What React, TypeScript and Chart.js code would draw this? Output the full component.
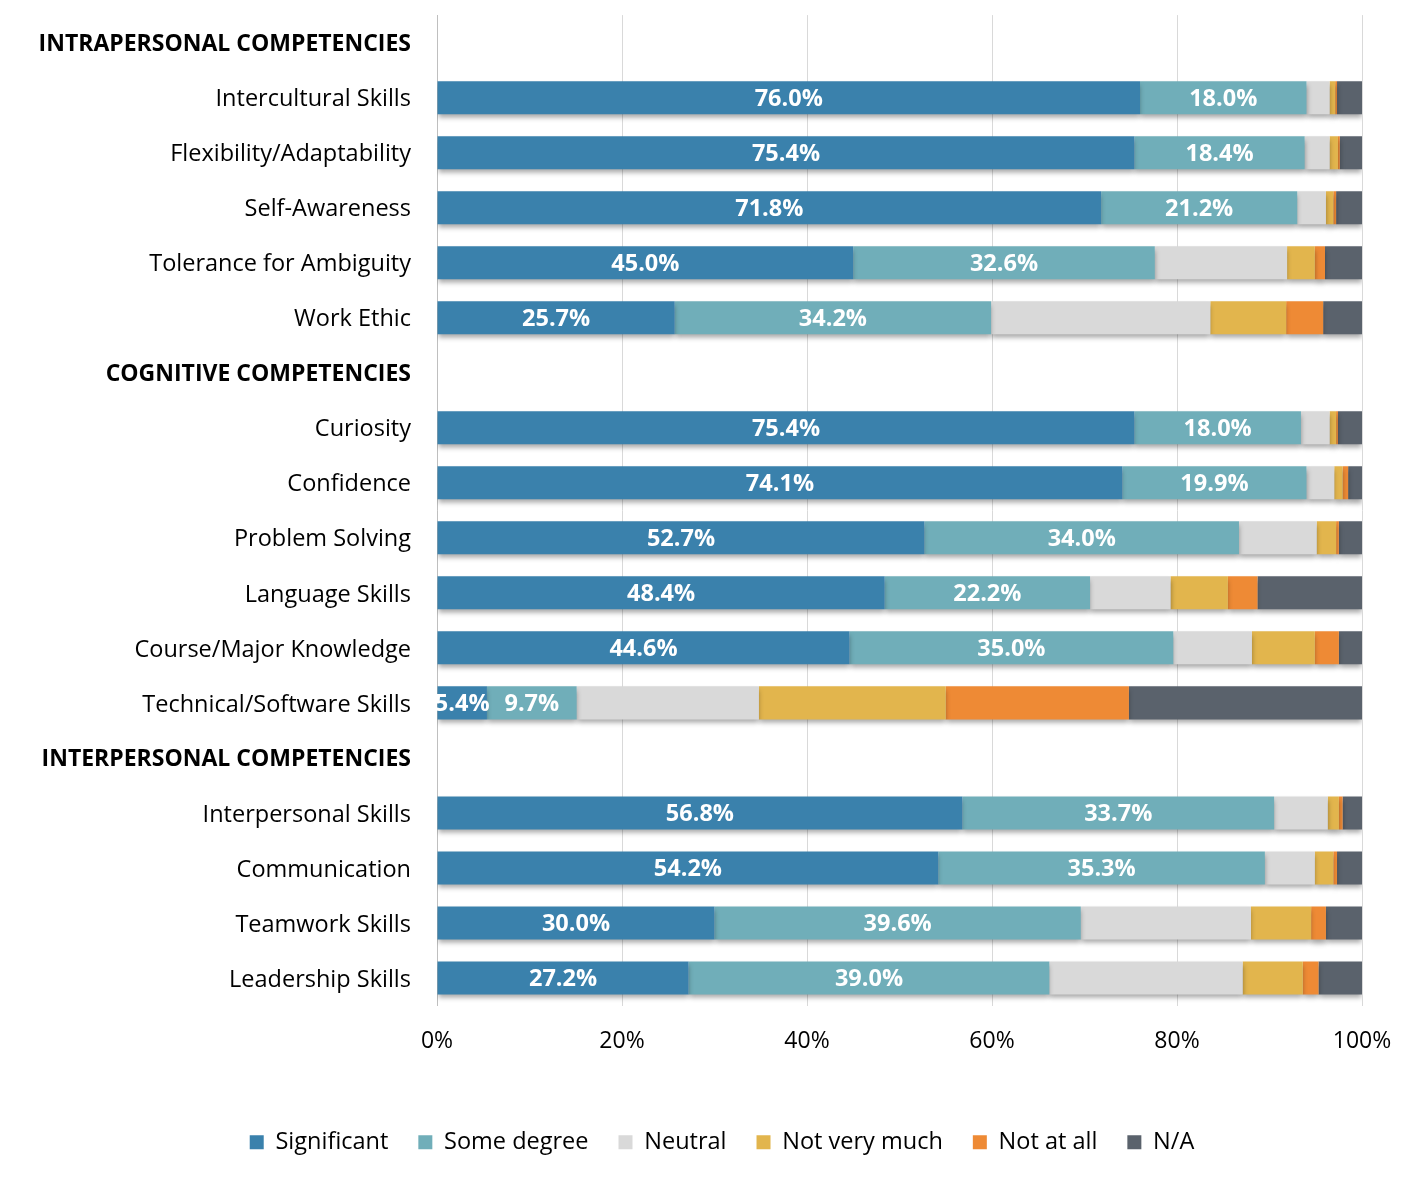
import React, { useEffect, useRef } from "react";
import { Chart, registerables } from "chart.js";

Chart.register(...registerables);

const categories = [
  "INTRAPERSONAL COMPETENCIES",
  "Intercultural Skills",
  "Flexibility/Adaptability",
  "Self-Awareness",
  "Tolerance for Ambiguity",
  "Work Ethic",
  "COGNITIVE COMPETENCIES",
  "Curiosity",
  "Confidence",
  "Problem Solving",
  "Language Skills",
  "Course/Major Knowledge",
  "Technical/Software Skills",
  "INTERPERSONAL COMPETENCIES",
  "Interpersonal Skills",
  "Communication",
  "Teamwork Skills",
  "Leadership Skills",
];

const headerRows = [0, 6, 13];

const significant = [null, 76.0, 75.4, 71.8, 45.0, 25.7, null, 75.4, 74.1, 52.7, 48.4, 44.6, 5.4, null, 56.8, 54.2, 30.0, 27.2];
const someDegree = [null, 18.0, 18.4, 21.2, 32.6, 34.2, null, 18.0, 19.9, 34.0, 22.2, 35.0, 9.7, null, 33.7, 35.3, 39.6, 39.0];
const neutral = [null, 2.5, 2.7, 3.1, 14.3, 23.7, null, 3.1, 3.0, 8.4, 8.7, 8.5, 19.7, null, 5.8, 5.4, 18.4, 20.9];
const notVeryMuch = [null, 0.6, 0.9, 0.8, 3.0, 8.2, null, 0.7, 0.9, 2.1, 6.2, 6.8, 20.2, null, 1.2, 2.0, 6.5, 6.5];
const notAtAll = [null, 0.2, 0.2, 0.3, 1.1, 4.0, null, 0.2, 0.6, 0.3, 3.2, 2.6, 19.8, null, 0.4, 0.4, 1.6, 1.7];
const notApplicable = [null, 2.7, 2.4, 2.8, 4.0, 4.2, null, 2.6, 1.5, 2.5, 11.3, 2.5, 25.2, null, 2.1, 2.7, 3.9, 4.7];

const seriesNames = ["Significant", "Some degree", "Neutral", "Not very much", "Not at all", "N/A"];
const seriesColors = ["#3A81AC", "#70AEB9", "#D9D9D9", "#E2B54D", "#EE8A35", "#5A626C"];
const xTicks = ["0%", "20%", "40%", "60%", "80%", "100%"];
const labelledSeries = [0, 1];

const FONT = "'Open Sans', Lato, sans-serif";
const SHIFT = 25;

const shadowAndLabels = {
  id: "shadowAndLabels",
  afterLayout(chart: any) {
    if (chart.legend) {
      chart.legend.right += 82;
    }
  },
  beforeDatasetsDraw(chart: any) {
    const ctx = chart.ctx;
    ctx.save();
    ctx.shadowColor = "rgba(0,0,0,0.35)";
    ctx.shadowBlur = 5;
    ctx.shadowOffsetX = 0;
    ctx.shadowOffsetY = 4;
  },
  afterDatasetsDraw(chart: any) {
    const ctx = chart.ctx;
    ctx.restore();
    ctx.save();
    ctx.fillStyle = "#FFFFFF";
    ctx.font = `bold 23.5px ${FONT}`;
    ctx.textAlign = "center";
    ctx.textBaseline = "middle";
    labelledSeries.forEach((di) => {
      const meta = chart.getDatasetMeta(di);
      const data = chart.data.datasets[di].data;
      meta.data.forEach((el: any, i: number) => {
        const v = data[i];
        if (v === null || v === undefined) return;
        const cx = (el.x + el.base) / 2;
        ctx.fillText(v.toFixed(1) + "%", cx, el.y + 1.5);
      });
    });
    ctx.restore();
  },
};

export default function App() {
  const ref = useRef<HTMLCanvasElement>(null);
  useEffect(() => {
    document.body.style.margin = "0";
    const all = [significant, someDegree, neutral, notVeryMuch, notAtAll, notApplicable];
    const chart = new Chart(ref.current!, {
      type: "bar",
      data: {
        labels: categories,
        datasets: all.map((d, i) => ({
          label: seriesNames[i],
          data: d,
          backgroundColor: seriesColors[i],
          borderWidth: 0,
          barPercentage: 0.6,
          categoryPercentage: 1.0,
        })),
      },
      options: {
        indexAxis: "y",
        animation: false,
        responsive: false,
        maintainAspectRatio: false,
        layout: { padding: { top: 0, right: 64, left: 0, bottom: 22 } },
        scales: {
          x: {
            stacked: true,
            min: 0,
            max: 100,
            afterBuildTicks(scale: any) {
              scale.ticks = [0, 20, 40, 60, 80, 100].map((v) => ({ value: v }));
            },
            afterFit(scale: any) {
              scale.height = 95;
            },
            ticks: {
              callback: (_v: any, i: number) => xTicks[i],
              color: "#000000",
              font: { family: FONT, size: 23 },
              padding: 22,
              maxRotation: 0,
            },
            grid: { color: "#D9D9D9", lineWidth: 1, drawTicks: false },
            border: { display: false },
          },
          y: {
            stacked: true,
            afterFit(scale: any) {
              scale.width = 437;
            },
            ticks: {
              color: "#000000",
              padding: 26,
              labelOffset: 2,
              font: (ctx: any) => ({
                family: FONT,
                size: headerRows.includes(ctx.index) ? 23 : 23.5,
                weight: headerRows.includes(ctx.index) ? "bold" : "normal",
              }),
            },
            grid: { display: false, drawTicks: false },
            border: { display: true, color: "#BFBFBF", width: 1 },
          },
        },
        plugins: {
          legend: {
            position: "bottom",
            labels: {
              boxWidth: 14,
              boxHeight: 14,
              padding: 30,
              color: "#000000",
              font: { family: FONT, size: 23.5 },
            },
          },
          tooltip: { enabled: false },
        },
      },
      plugins: [shadowAndLabels],
    } as any);
    return () => chart.destroy();
  }, []);
  return (
    <div style={{ position: "absolute", left: 0, top: 0, width: 1426, height: 1186, overflow: "hidden", background: "#fff" }}>
      <canvas
        ref={ref}
        width={1426}
        height={1186 + SHIFT}
        style={{ position: "absolute", left: 0, top: -SHIFT, width: 1426, height: 1186 + SHIFT }}
      />
    </div>
  );
}
